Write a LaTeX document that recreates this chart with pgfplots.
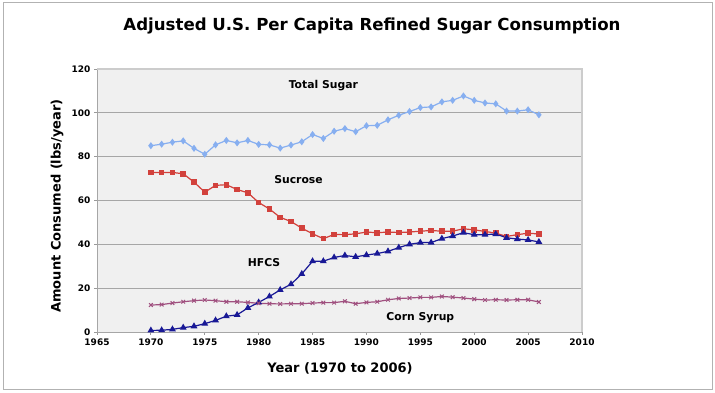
\documentclass[border=0pt]{standalone}
\usepackage{fontspec}
\setmainfont{DejaVu Sans}
\usepackage{pgfplots}
\pgfplotsset{compat=1.18}
\definecolor{cTotal}{HTML}{87AFF0}
\definecolor{cSuc}{HTML}{D2413C}
\definecolor{cHFCS}{HTML}{191996}
\definecolor{cCorn}{HTML}{A0507F}
\begin{document}
\begin{tikzpicture}[x=1pt,y=1pt]
\useasboundingbox (0,0) rectangle (715,393);
\draw[black!30, line width=1pt] (3,3) rectangle (712,390);
\node[font=\bfseries\fontsize{16.6}{20}\selectfont] at (372,367) {Adjusted U.S. Per Capita Refined Sugar Consumption};
\node[font=\bfseries\fontsize{13}{15}\selectfont, rotate=90] at (57,187) {Amount Consumed (lbs/year)};
\node[font=\bfseries\fontsize{13}{15}\selectfont] at (340,25) {Year (1970 to 2006)};
\begin{axis}[at={(97pt,61pt)}, anchor=south west, width=485pt, height=263pt, scale only axis,
  xmin=1965, xmax=2010, ymin=0, ymax=120,
  xtick={1965,1970,...,2010}, ytick={0,20,...,120},
  axis background/.style={fill=black!6},
  ymajorgrids, grid style={black!35, line width=0.8pt},
  axis x line*=bottom, axis y line*=left,
  axis line style={black!35, line width=0.8pt},
  tick style={black!40, line width=0.8pt},
  tick align=outside, major tick length=3pt,
  tick label style={font=\bfseries\fontsize{9}{10}\selectfont},
  /pgf/number format/1000 sep={}, /pgf/number format/assume math mode=true,
  clip=false,
  every axis plot/.append style={line width=1.2pt},
]
\draw[black!20, line width=1.5pt] (rel axis cs:0,1) -- (rel axis cs:1,1) -- (rel axis cs:1,0);
\addplot[color=cTotal, mark=diamond*, mark size=2.6pt] coordinates {
(1970,85.0)(1971,85.7)(1972,86.6)(1973,87.2)(1974,83.8)(1975,81.1)(1976,85.4)(1977,87.4)(1978,86.3)(1979,87.4)
(1980,85.6)(1981,85.4)(1982,83.9)(1983,85.3)(1984,86.8)(1985,90.1)(1986,88.3)(1987,91.6)(1988,92.8)(1989,91.4)
(1990,94.1)(1991,94.3)(1992,96.8)(1993,98.9)(1994,100.6)(1995,102.4)(1996,102.7)(1997,105.0)(1998,105.7)(1999,107.7)
(2000,105.7)(2001,104.5)(2002,104.1)(2003,100.8)(2004,100.8)(2005,101.4)(2006,99.1)};
\addplot[color=cSuc, mark=square*, mark size=2.2pt] coordinates {
(1970,72.8)(1971,72.8)(1972,72.8)(1973,72.2)(1974,68.4)(1975,63.8)(1976,66.9)(1977,67.2)(1978,65.0)(1979,63.5)
(1980,59.1)(1981,56.1)(1982,52.3)(1983,50.4)(1984,47.4)(1985,44.8)(1986,42.6)(1987,44.5)(1988,44.4)(1989,44.8)
(1990,45.6)(1991,45.3)(1992,45.6)(1993,45.4)(1994,45.6)(1995,46.0)(1996,46.3)(1997,46.0)(1998,46.0)(1999,47.1)
(2000,46.6)(2001,45.9)(2002,45.1)(2003,43.6)(2004,44.4)(2005,45.1)(2006,44.7)};
\addplot[color=cHFCS, mark=triangle*, mark size=2.8pt] coordinates {
(1970,0.7)(1971,0.8)(1972,1.2)(1973,2.0)(1974,2.6)(1975,3.8)(1976,5.3)(1977,7.2)(1978,7.8)(1979,11.0)
(1980,13.5)(1981,16.2)(1982,19.2)(1983,21.8)(1984,26.5)(1985,32.3)(1986,32.3)(1987,34.0)(1988,34.9)(1989,34.3)
(1990,35.1)(1991,35.8)(1992,36.8)(1993,38.5)(1994,40.0)(1995,40.8)(1996,40.8)(1997,42.6)(1998,43.8)(1999,45.3)
(2000,44.4)(2001,44.4)(2002,44.7)(2003,43.0)(2004,42.4)(2005,42.0)(2006,41.1)};
\addplot[color=cCorn, mark=x, mark size=2.6pt, mark options={line width=1pt}] coordinates {
(1970,12.3)(1971,12.5)(1972,13.2)(1973,13.8)(1974,14.3)(1975,14.6)(1976,14.3)(1977,13.8)(1978,13.8)(1979,13.5)
(1980,13.1)(1981,12.9)(1982,12.8)(1983,12.9)(1984,12.9)(1985,13.2)(1986,13.4)(1987,13.4)(1988,14.0)(1989,12.9)
(1990,13.5)(1991,13.8)(1992,14.7)(1993,15.3)(1994,15.5)(1995,15.8)(1996,15.8)(1997,16.2)(1998,15.9)(1999,15.5)
(2000,15.0)(2001,14.6)(2002,14.7)(2003,14.6)(2004,14.7)(2005,14.7)(2006,13.7)};
\node[font=\bfseries\fontsize{10.8}{12}\selectfont] at (axis cs:1986,112.5) {Total Sugar};
\node[font=\bfseries\fontsize{10.8}{12}\selectfont] at (axis cs:1983.7,69.5) {Sucrose};
\node[font=\bfseries\fontsize{10.8}{12}\selectfont] at (axis cs:1980.5,31.5) {HFCS};
\node[font=\bfseries\fontsize{10.8}{12}\selectfont] at (axis cs:1995,6.4) {Corn Syrup};
\end{axis}
\end{tikzpicture}
\end{document}
